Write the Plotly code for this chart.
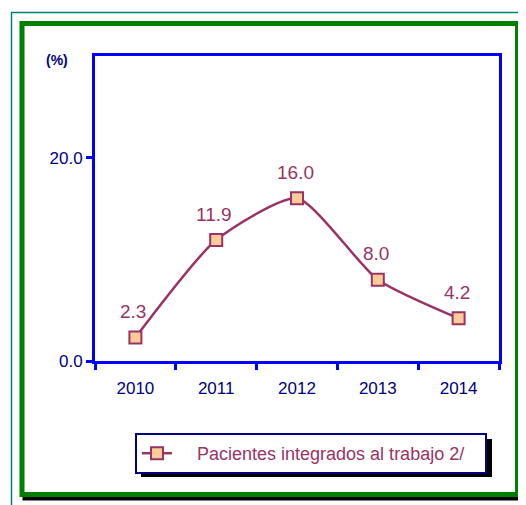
import plotly.graph_objects as go

years = ['2010', '2011', '2012', '2013', '2014']
pacientes = [2.3, 11.9, 16.0, 8.0, 4.2]
etiquetas = ['2.3', '11.9', '16.0', '8.0', '4.2']
serie = 'Pacientes integrados al trabajo 2/'

# the page body has an 8px margin, so the figure is 8px smaller than the window
PAGE = 8
W, H = 526 - PAGE, 505 - PAGE
L, R, T, B = 95 - PAGE, 27, 56 - PAGE, 144
PW, PH = W - L - R, H - T - B


# window pixels -> paper coords
def px(x):
    return (x - PAGE - L) / PW


def py(y):
    return (H + PAGE - B - y) / PH


fig = go.Figure()
fig.add_trace(go.Scatter(
    x=years, y=pacientes,
    name='\u00a0' * 4 + serie + '\u00a0' * 3,
    mode='lines+markers',
    line=dict(color='#993366', width=2.5, shape='spline', smoothing=0.6),
    marker=dict(symbol='square', size=12, color='#FFCC99',
                line=dict(color='#993366', width=2)),
    cliponaxis=False,
))

annotations = [dict(text='<b>(%)</b>', xref='paper', yref='paper',
                    x=px(57), y=py(60), xanchor='center', yanchor='middle',
                    showarrow=False, font=dict(size=14, color='#000080'))]
# value labels; x is the category index (the names look like numbers)
for i, (v, lab) in enumerate(zip(pacientes, etiquetas)):
    annotations.append(dict(x=i, y=v, text=lab, showarrow=False,
                            xanchor='center', yanchor='middle',
                            yshift=26, xshift=-2,
                            font=dict(size=19, color='#993366')))

shapes = [
    # outer teal frame
    dict(type='rect', xref='paper', yref='paper', layer='below',
         x0=px(11.5), x1=px(540), y0=py(12.5), y1=py(520),
         line=dict(color='#008080', width=1.5)),
    # shadow of the green frame
    dict(type='rect', xref='paper', yref='paper', layer='below',
         x0=px(25), x1=px(521), y0=py(27), y1=py(498),
         fillcolor='black', line=dict(color='black', width=5)),
    # green frame
    dict(type='rect', xref='paper', yref='paper', layer='below',
         x0=px(22), x1=px(517.5), y0=py(23.5), y1=py(494.5),
         fillcolor='white', line=dict(color='#008000', width=5)),
    # legend shadow
    dict(type='rect', xref='paper', yref='paper', layer='above',
         x0=px(141), x1=px(492), y0=py(439), y1=py(477),
         fillcolor='black', line=dict(width=0)),
]

fig.update_layout(
    width=W, height=H,
    margin=dict(l=L, r=R, t=T, b=B),
    paper_bgcolor='white', plot_bgcolor='rgba(0,0,0,0)',
    font=dict(family='Arial', color='#000080'),
    shapes=shapes,
    annotations=annotations,
    showlegend=True,
    legend=dict(x=px(135), y=py(433), xanchor='left', yanchor='top',
                bgcolor='white', bordercolor='#000080', borderwidth=2,
                font=dict(family='Arial', size=18, color='#993366')),
)
fig.update_xaxes(
    type='category', range=[-0.5, 4.5],
    showline=True, linecolor='#0000FF', linewidth=3, mirror=True,
    ticks='outside', tickson='boundaries', ticklen=6, tickwidth=2.5,
    tickcolor='#0000FF', showgrid=False, ticklabelstandoff=10,
    tickfont=dict(size=17, color='#000080'),
)
fig.update_yaxes(
    range=[0, 30], tickvals=[0, 20], ticktext=['0.0', '20.0'],
    showline=True, linecolor='#0000FF', linewidth=3, mirror=True,
    ticks='outside', ticklen=6, tickwidth=2.5, tickcolor='#0000FF',
    showgrid=False, zeroline=False,
    tickfont=dict(size=17, color='#000080'),
)

fig.write_html('out.html')
